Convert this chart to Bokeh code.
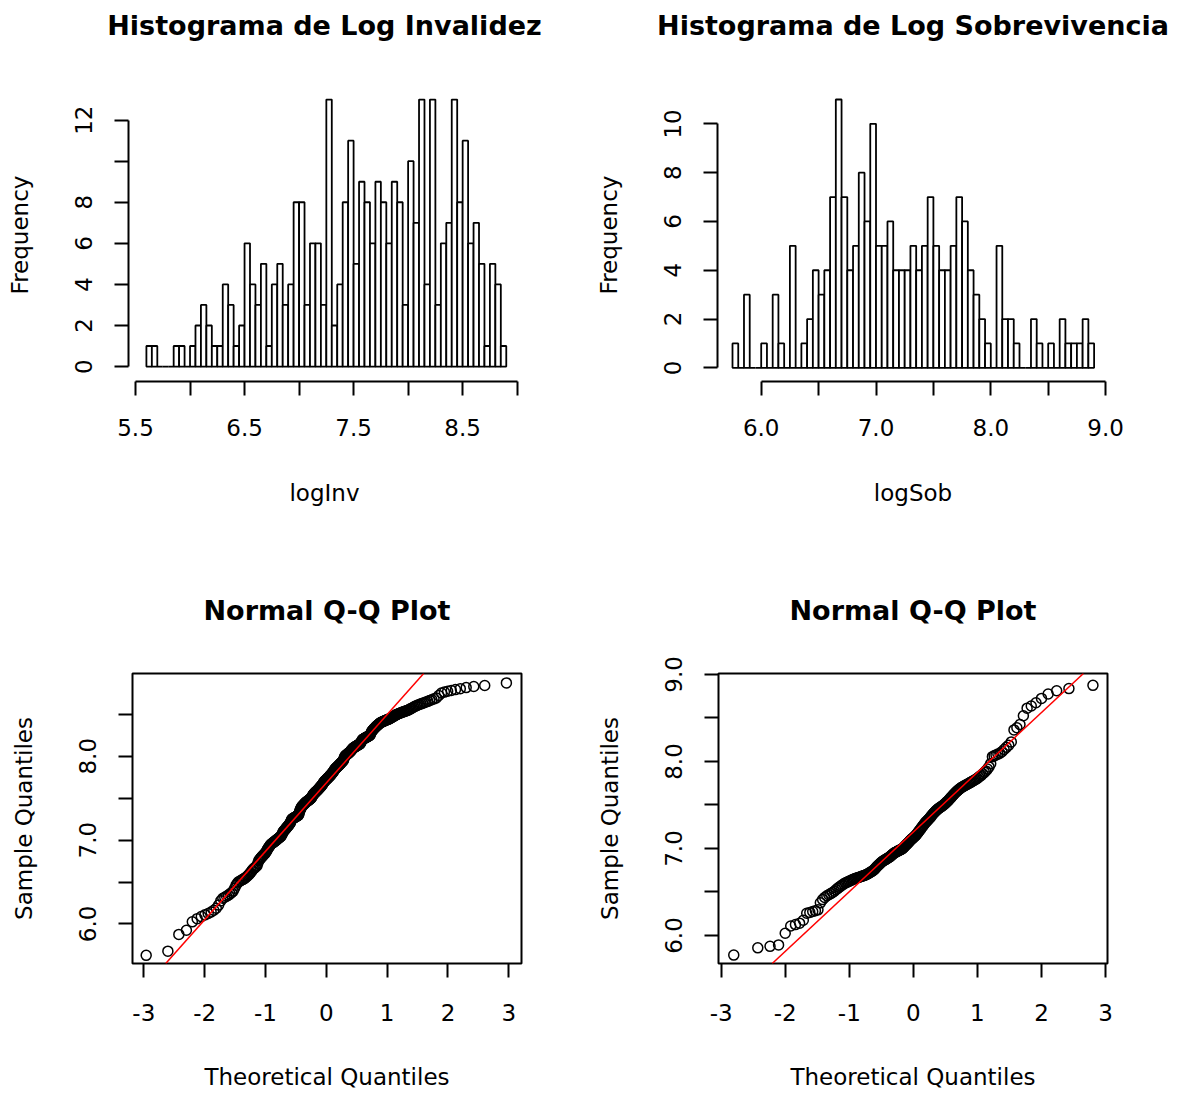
from statistics import NormalDist

import numpy as np
from bokeh.embed import file_html
from bokeh.layouts import column, row
from bokeh.models import ColumnDataSource, FixedTicker, Slope, Title
from bokeh.plotting import figure
from bokeh.resources import INLINE

# ---------------- data ----------------
BIN_W = 0.05

# Histogram of logInv: first break 5.60, bins of 0.05 up to 8.90
inv_first_break = 5.60
inv_counts = [1, 1, 0, 0, 0, 1, 1, 0, 1, 2,
              3, 2, 1, 1, 4, 3, 1, 2, 6, 4,
              3, 5, 1, 4, 5, 3, 4, 8, 8, 3,
              6, 6, 3, 13, 2, 4, 8, 11, 5, 9,
              8, 6, 9, 8, 6, 9, 8, 3, 10, 7,
              13, 4, 13, 3, 6, 7, 13, 8, 11, 6,
              7, 5, 1, 5, 4, 1]

# Histogram of logSob: first break 5.75, bins of 0.05 up to 8.90
sob_first_break = 5.75
sob_counts = [1, 0, 3, 0, 0, 1, 0, 3, 1, 0,
              5, 0, 1, 2, 4, 3, 4, 7, 11, 7,
              4, 5, 8, 6, 10, 5, 5, 6, 4, 4,
              4, 5, 4, 5, 7, 5, 4, 4, 5, 7,
              6, 4, 3, 2, 1, 0, 5, 2, 2, 1,
              0, 0, 2, 1, 0, 1, 0, 2, 1, 1,
              1, 2, 1]

# tick positions and tick labels
inv_xticks = [5.5, 6.0, 6.5, 7.0, 7.5, 8.0, 8.5, 9.0]
inv_xlabels = ["5.5", "", "6.5", "", "7.5", "", "8.5", ""]
inv_yticks = [0, 2, 4, 6, 8, 10, 12]
inv_ylabels = ["0", "2", "4", "6", "8", "", "12"]

sob_xticks = [6.0, 6.5, 7.0, 7.5, 8.0, 8.5, 9.0]
sob_xlabels = ["6.0", "", "7.0", "", "8.0", "", "9.0"]
sob_yticks = [0, 2, 4, 6, 8, 10]
sob_ylabels = ["0", "2", "4", "6", "8", "10"]

qq_xticks = [-3, -2, -1, 0, 1, 2, 3]
qq_xlabels = ["-3", "-2", "-1", "0", "1", "2", "3"]
qq_inv_yticks = [6.0, 6.5, 7.0, 7.5, 8.0, 8.5]
qq_inv_ylabels = ["6.0", "", "7.0", "", "8.0", ""]
qq_sob_yticks = [6.0, 6.5, 7.0, 7.5, 8.0, 8.5, 9.0]
qq_sob_ylabels = ["6.0", "", "7.0", "", "8.0", "", "9.0"]

titles = ["Histograma de Log Invalidez", "Histograma de Log Sobrevivencia",
          "Normal Q-Q Plot", "Normal Q-Q Plot"]
xlabels = ["logInv", "logSob", "Theoretical Quantiles", "Theoretical Quantiles"]
ylabels = ["Frequency", "Frequency", "Sample Quantiles", "Sample Quantiles"]

FONT = "DejaVu Sans"


def sample_from_counts(first, counts):
    """Observations implied by the histogram counts (placed inside their bins)."""
    vals = []
    for i, c in enumerate(counts):
        lo = first + i * BIN_W
        for j in range(c):
            vals.append(lo + BIN_W * (j + 0.5) / c)
    return np.array(sorted(vals))


def style_axis(ax, ticks, labels, bounds, show_line=True, orient=None):
    ax.ticker = FixedTicker(ticks=ticks)
    ax.major_label_overrides = {t: l for t, l in zip(ticks, labels)}
    ax.bounds = bounds
    ax.minor_tick_line_color = None
    ax.major_tick_in = 0
    ax.major_tick_out = 14
    ax.major_tick_line_width = 2
    ax.major_tick_line_color = "black"
    ax.axis_line_width = 2
    ax.axis_line_color = "black" if show_line else None
    ax.major_label_text_font = FONT
    ax.major_label_text_font_size = "23px"
    ax.major_label_text_color = "black"
    ax.axis_label_text_font = FONT
    ax.axis_label_text_font_size = "23px"
    ax.axis_label_text_font_style = "normal"
    ax.axis_label_text_color = "black"
    if orient is not None:
        ax.major_label_orientation = orient


def make_fig(title, xr, yr, w, h, borders):
    bl, br, bt, bb = borders
    p = figure(width=w, height=h, x_range=xr, y_range=yr,
               output_backend="svg", toolbar_location=None,
               min_border_left=bl, min_border_right=br,
               min_border_top=bt, min_border_bottom=bb)
    p.grid.visible = False
    p.background_fill_color = "white"
    p.border_fill_color = "white"
    # empty gap between the plot region and the main title
    p.add_layout(Title(text=" ", text_font_size="10px", standoff=35), "above")
    p.add_layout(Title(text=title, align="center", text_font=FONT,
                       text_font_size="27px", text_font_style="bold",
                       text_color="black", standoff=0), "above")
    return p


def set_axes(p, idx, x_std, x_lab_std):
    p.xaxis.axis_label = xlabels[idx]
    p.yaxis.axis_label = ylabels[idx]
    p.xaxis.major_label_standoff = x_std
    p.yaxis.major_label_standoff = 22
    p.xaxis.axis_label_standoff = x_lab_std
    p.yaxis.axis_label_standoff = 40


def hist_fig(idx, first, counts, xr, yr, w, h, borders, xt, xl, yt, yl):
    p = make_fig(titles[idx], xr, yr, w, h, borders)
    p.outline_line_color = None
    left = first + BIN_W * np.arange(len(counts))
    src = ColumnDataSource(dict(left=left, right=left + BIN_W,
                                top=np.array(counts, dtype=float)))
    p.quad(left="left", right="right", top="top", bottom=0, source=src,
           fill_color="white", line_color="black", line_width=1.8)
    style_axis(p.xaxis[0], xt, xl, (xt[0], xt[-1]))
    style_axis(p.yaxis[0], yt, yl, (yt[0], yt[-1]), orient="vertical")
    set_axes(p, idx, 23, 41)
    return p


def qq_fig(idx, sample, xr, yr, w, h, borders, yt, yl):
    p = make_fig(titles[idx], xr, yr, w, h, borders)
    p.outline_line_color = "black"
    p.outline_line_width = 2
    n = len(sample)
    nd = NormalDist()
    theo = np.array([nd.inv_cdf((i + 0.5) / n) for i in range(n)])
    src = ColumnDataSource(dict(x=theo, y=sample))
    p.scatter("x", "y", source=src, marker="circle", size=10,
              fill_color=None, line_color="black", line_width=1.5)
    # qqline through the quartiles
    y1, y2 = np.quantile(sample, [0.25, 0.75])
    x1, x2 = nd.inv_cdf(0.25), nd.inv_cdf(0.75)
    slope = (y2 - y1) / (x2 - x1)
    icpt = y1 - slope * x1
    p.add_layout(Slope(gradient=slope, y_intercept=icpt,
                       line_color="#ff0000", line_width=1.5))
    style_axis(p.xaxis[0], qq_xticks, qq_xlabels, (qq_xticks[0], qq_xticks[-1]),
               show_line=False)
    style_axis(p.yaxis[0], yt, yl, (yt[0], yt[-1]), show_line=False,
               orient="vertical")
    set_axes(p, idx, 26, 40)
    return p


inv_sample = sample_from_counts(inv_first_break, inv_counts)
sob_sample = sample_from_counts(sob_first_break, sob_counts)

p1 = hist_fig(0, inv_first_break, inv_counts, (5.4358, 9.0305), (-0.728, 13.54),
              591, 547, (128, 71, 88, 165),
              inv_xticks, inv_xlabels, inv_yticks, inv_ylabels)
p2 = hist_fig(1, sob_first_break, sob_counts, (5.6193, 9.0253), (-0.561, 11.45),
              591, 547, (126, 74, 88, 166),
              sob_xticks, sob_xlabels, sob_yticks, sob_ylabels)
p3 = qq_fig(2, inv_sample, (-3.186, 3.209), (5.528, 8.987),
            591, 546, (132, 70, 126, 129), qq_inv_yticks, qq_inv_ylabels)
p4 = qq_fig(3, sob_sample, (-3.042, 3.031), (5.678, 9.011),
            591, 546, (127, 75, 126, 130), qq_sob_yticks, qq_sob_ylabels)

layout = column(row(p1, p2), row(p3, p4))

open("out.html", "w").write(file_html(layout, INLINE))
